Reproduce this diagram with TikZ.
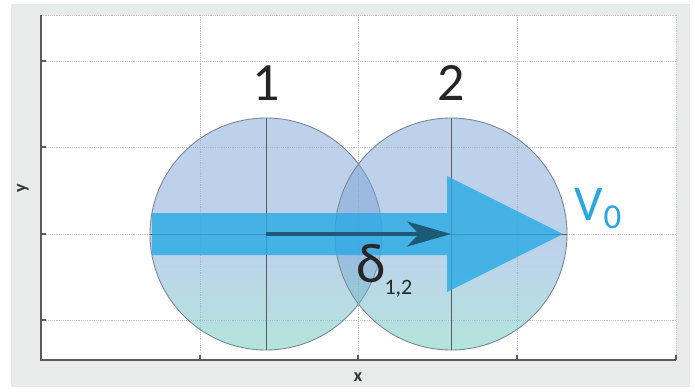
\documentclass[tikz,border=0pt]{standalone}
\usepackage{fontspec}
\setmainfont{Carlito}
\usetikzlibrary{arrows.meta}
\definecolor{panel}{HTML}{E9EAEA}
\definecolor{gridc}{HTML}{CCC6C6}
\definecolor{axisc}{HTML}{5A5A5A}
\definecolor{cirtop}{RGB}{125,165,217}
\definecolor{cirbot}{RGB}{105,203,189}
\definecolor{cirline}{HTML}{7A8794}
\definecolor{flow}{RGB}{40,170,228}
\definecolor{darkarr}{HTML}{1D5A78}
\definecolor{vlab}{HTML}{2AA6E0}
\pgfdeclareverticalshading{discshade}{100bp}{color(0bp)=(cirbot); color(25bp)=(cirbot); color(48bp)=(cirtop); color(100bp)=(cirtop)}
\begin{document}
\begin{tikzpicture}[x=1pt,y=-1pt,
  gridline/.style={gridc, line width=0.9pt, dash pattern=on 1.2pt off 1pt},
  axisline/.style={axisc, line width=1.2pt},
  disc/.style={circle, minimum size=232pt, inner sep=0pt, draw=cirline, line width=0.9pt,
    shade, shading=discshade, fill opacity=0.5, draw opacity=1},
  cross/.style={axisc, line width=0.8pt},
  biglab/.style={font=\fontsize{54}{60}\selectfont, text=black!85, anchor=base, inner sep=0pt},
  axlab/.style={font=\bfseries\fontsize{18}{18}\selectfont, text=black!80, inner sep=0pt},
  flowarrow/.style={fill=flow, fill opacity=0.8, draw=none},
  deltaarrow/.style={darkarr, line width=4.5pt, -{Stealth[length=44pt,width=25pt,inset=12pt]}}
]
\useasboundingbox (0,0) rectangle (695,391);
% panel and plot area
\fill[panel] (11,4) rectangle (690,387);
\fill[white] (41,15) rectangle (676,360);
% grid
\foreach \gx in {200,358,517,676} \draw[gridline] (\gx,15) -- (\gx,360);
\foreach \gy in {15,61,147,234,320} \draw[gridline] (41,\gy) -- (676,\gy);
% discs
\node[disc] (c1) at (266,234) {};
\node[disc] (c2) at (451,234) {};
\draw[cross] (c1.north) -- (c1.south);
\draw[cross] (c1.west) -- (c1.east);
\draw[cross] (c2.north) -- (c2.south);
\draw[cross] (c2.west) -- (c2.east);
% velocity arrow (shape)
\fill[flowarrow] (152,213) -- (447,213) -- (447,176) -- (563,234) -- (447,292) -- (447,255) -- (152,255) -- cycle;
% displacement arrow
\draw[deltaarrow] (c1.center) -- (c2.center);
\node[font=\fontsize{8}{8}\selectfont, text=darkarr!60, inner sep=0pt] (c2lab) at (455,236) {2};
% labels
\node[biglab] (l1) at (266,100) {1};
\node[biglab] (l2) at (451,100) {2};
\node[anchor=base west, inner sep=0pt, text=vlab, font=\fontsize{50}{56}\selectfont] (v0) at (574,220)
  {V\kern1pt\raisebox{-8pt}{\fontsize{35}{35}\selectfont 0}};
\node[anchor=base west, inner sep=0pt, text=black!85, font=\fontsize{56}{60}\selectfont] (dl) at (356,282)
  {δ\kern-1pt\raisebox{-12pt}{\fontsize{22}{22}\selectfont 1,2}};
% axes
\draw[axisline] (41,15) -- (41,360) -- (676,360);
\foreach \gy in {61,147,234,320} \draw[axisline] (41,\gy) -- (46,\gy);
\foreach \gx in {200,358,517,676} \draw[axisline] (\gx,360) -- (\gx,355);
\node[axlab, rotate=90] (ylab) at (23,188) {y};
\node[axlab] (xlab) at (358,377) {x};
\end{tikzpicture}
\end{document}
